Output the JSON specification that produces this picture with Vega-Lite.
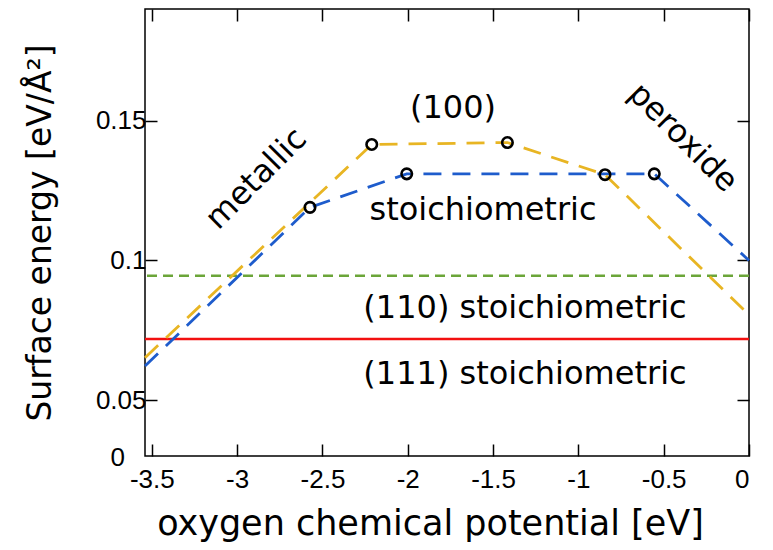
{
  "$schema": "https://vega.github.io/schema/vega-lite/v6.json",
  "width": 604,
  "height": 447,
  "autosize": {"type": "none"},
  "padding": {"left": 145, "top": 9, "right": 24, "bottom": 94},
  "background": "white",
  "config": {
    "view": {"stroke": "black", "strokeWidth": 1.5},
    "axis": {
      "domain": false,
      "grid": false,
      "tickColor": "black",
      "tickWidth": 1.5,
      "labelColor": "black",
      "labelFont": "Liberation Sans",
      "labelFontSize": 26,
      "titleFont": "DejaVu Sans",
      "titleFontSize": 33,
      "titleFontWeight": "normal",
      "titleColor": "black"
    }
  },
  "datasets": {
    "curves": [
      {"series": "100 stoich", "x": -3.54, "y": 0.0622},
      {"series": "100 stoich", "x": -2.573, "y": 0.119},
      {"series": "100 stoich", "x": -2.006, "y": 0.131},
      {"series": "100 stoich", "x": -0.555, "y": 0.131},
      {"series": "100 stoich", "x": 0, "y": 0.1},
      {"series": "100 other", "x": -3.54, "y": 0.0652},
      {"series": "100 other", "x": -2.211, "y": 0.1415},
      {"series": "100 other", "x": -1.416, "y": 0.1422},
      {"series": "100 other", "x": -0.844, "y": 0.1307},
      {"series": "100 other", "x": 0, "y": 0.0805}
    ],
    "points": [
      {"x": -2.573, "y": 0.119},
      {"x": -2.211, "y": 0.1415},
      {"x": -2.006, "y": 0.131},
      {"x": -1.416, "y": 0.1422},
      {"x": -0.844, "y": 0.1307},
      {"x": -0.555, "y": 0.131}
    ],
    "flat": [
      {"surface": "(110) stoichiometric", "y": 0.0945},
      {"surface": "(111) stoichiometric", "y": 0.0719}
    ],
    "axisZero": [
      {"text": "0", "x": -3.54, "y": 0.03}
    ],
    "labels": [
      {"text": "(100)", "x": -1.735, "y": 0.1545, "angle": 0},
      {"text": "stoichiometric", "x": -1.559, "y": 0.1179, "angle": 0},
      {"text": "(110) stoichiometric", "x": -1.313, "y": 0.083, "angle": 0},
      {"text": "(111) stoichiometric", "x": -1.313, "y": 0.0593, "angle": 0},
      {"text": "metallic", "x": -2.889, "y": 0.1293, "angle": 315},
      {"text": "peroxide", "x": -0.386, "y": 0.144, "angle": 45}
    ]
  },
  "resolve": {
    "axis": {"x": "independent", "y": "independent"},
    "scale": {"color": "independent", "strokeDash": "independent"}
  },
  "layer": [
    {
      "data": {"name": "flat"},
      "mark": {"type": "rule", "strokeWidth": 2.5},
      "encoding": {
        "y": {"field": "y", "type": "quantitative", "scale": {"domain": [0.03, 0.19], "nice": false, "zero": false}, "axis": null},
        "color": {"field": "surface", "type": "nominal", "legend": null, "scale": {"domain": ["(110) stoichiometric", "(111) stoichiometric"], "range": ["#6BA539", "#F21010"]}},
        "strokeDash": {"field": "surface", "type": "nominal", "legend": null, "scale": {"domain": ["(110) stoichiometric", "(111) stoichiometric"], "range": [[10, 6], [1, 0]]}}
      }
    },
    {
      "data": {"name": "curves"},
      "mark": {"type": "line", "strokeWidth": 2.8, "strokeDash": [18, 11]},
      "encoding": {
        "x": {"field": "x", "type": "quantitative", "scale": {"domain": [-3.54, 0], "nice": false, "zero": false},
          "axis": {"orient": "bottom", "values": [-3.5, -3, -2.5, -2, -1.5, -1, -0.5, 0], "tickSize": -12, "labelPadding": 22, "labelExpr": "(datum.value < 0 ? '-' : '') + format(abs(datum.value), '~g')", "title": "oxygen chemical potential [eV]", "titleFontSize": 35, "titlePadding": 14, "titleX": 285}},
        "y": {"field": "y", "type": "quantitative", "scale": {"domain": [0.03, 0.19], "nice": false, "zero": false},
          "axis": {"orient": "left", "values": [0.05, 0.1, 0.15], "tickSize": -12, "labelPadding": 11, "labelExpr": "format(datum.value, '~g')", "title": "Surface energy [eV/Å²]", "titlePadding": 38}},
        "color": {"field": "series", "type": "nominal", "legend": null, "scale": {"domain": ["100 stoich", "100 other"], "range": ["#1E5CCC", "#E8B523"]}},
        "order": {"field": "x", "type": "quantitative"}
      }
    },
    {
      "data": {"name": "points"},
      "mark": {"type": "point", "shape": "circle", "filled": false, "stroke": "black", "strokeWidth": 2.6, "size": 110, "opacity": 1},
      "encoding": {
        "x": {"field": "x", "type": "quantitative", "scale": {"domain": [-3.54, 0], "nice": false, "zero": false},
          "axis": {"orient": "top", "values": [-3.5, -3, -2.5, -2, -1.5, -1, -0.5, 0], "tickSize": -12, "labels": false, "title": null}},
        "y": {"field": "y", "type": "quantitative", "scale": {"domain": [0.03, 0.19], "nice": false, "zero": false},
          "axis": {"orient": "right", "values": [0.05, 0.1, 0.15], "tickSize": -12, "labels": false, "title": null}}
      }
    },
    {
      "data": {"name": "axisZero"},
      "mark": {"type": "text", "font": "Liberation Sans", "fontSize": 26, "color": "black", "align": "right", "baseline": "middle", "dx": -20, "dy": 2, "clip": false},
      "encoding": {
        "x": {"field": "x", "type": "quantitative", "scale": {"domain": [-3.54, 0], "nice": false, "zero": false}, "axis": null},
        "y": {"field": "y", "type": "quantitative", "scale": {"domain": [0.03, 0.19], "nice": false, "zero": false}, "axis": null},
        "text": {"field": "text"}
      }
    },
    {
      "data": {"name": "labels"},
      "mark": {"type": "text", "font": "DejaVu Sans", "fontSize": 32, "color": "black", "align": "center", "baseline": "middle"},
      "encoding": {
        "x": {"field": "x", "type": "quantitative", "scale": {"domain": [-3.54, 0], "nice": false, "zero": false}, "axis": null},
        "y": {"field": "y", "type": "quantitative", "scale": {"domain": [0.03, 0.19], "nice": false, "zero": false}, "axis": null},
        "text": {"field": "text"},
        "angle": {"field": "angle", "type": "quantitative", "scale": null}
      }
    }
  ]
}
